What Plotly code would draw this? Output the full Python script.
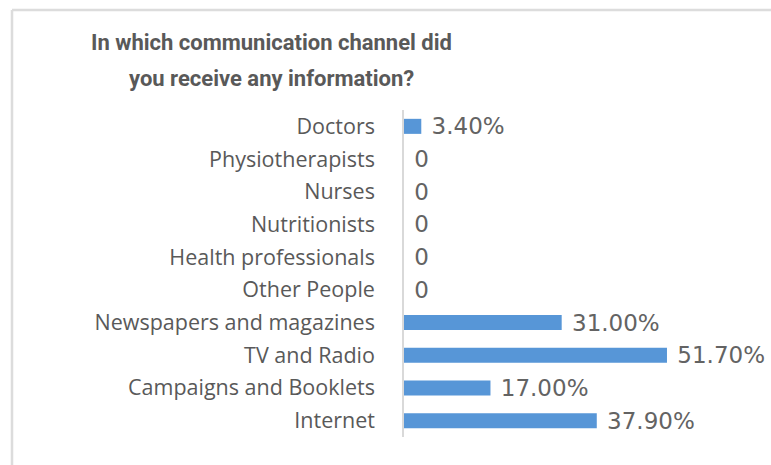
import plotly.graph_objects as go

# Survey responses: share of respondents per communication channel
channels = [
    "Doctors",
    "Physiotherapists",
    "Nurses",
    "Nutritionists",
    "Health professionals",
    "Other People",
    "Newspapers and magazines",
    "TV and Radio",
    "Campaigns and Booklets",
    "Internet",
]
shares = [3.4, 0, 0, 0, 0, 0, 31.0, 51.7, 17.0, 37.9]

title_lines = ["In which communication channel did", "you receive any information?"]

W, H = 771, 465
ML, MR, MT, MB = 404, 0, 110, 28

labels = ["0" if v == 0 else f"{v:.2f}%" for v in shares]

fig = go.Figure(
    go.Bar(
        x=shares,
        y=channels,
        orientation="h",
        width=0.46,
        marker=dict(color="#5796d7", line=dict(width=0)),
        text=[" " + t for t in labels],
        textposition="outside",
        constraintext="none",
        cliponaxis=False,
        textfont=dict(family="DejaVu Sans", size=23, color="#636363"),
        hoverinfo="skip",
    )
)

fig.update_layout(
    width=W,
    height=H,
    margin=dict(l=ML, r=MR, t=MT, b=MB),
    paper_bgcolor="white",
    plot_bgcolor="white",
    showlegend=False,
    bargap=0.5,
)

fig.update_xaxes(
    range=[0, 72.15],
    visible=False,
    showgrid=False,
    zeroline=False,
)

fig.update_yaxes(
    type="category",
    categoryorder="array",
    categoryarray=channels,
    autorange="reversed",
    showline=True,
    linecolor="#d9d9d9",
    linewidth=1.5,
    ticks="",
    showgrid=False,
    ticklabelstandoff=23,
    tickfont=dict(family="Open Sans", size=21.5, color="#595959"),
)

# Two-line bold heading
for i, line in enumerate(title_lines):
    fig.add_annotation(
        text=f"<b>{line}</b>",
        xref="paper",
        yref="paper",
        x=(271 - ML) / (W - ML - MR),
        y=1 + (MT - (42 + 36 * i)) / (H - MT - MB),
        xanchor="center",
        yanchor="middle",
        showarrow=False,
        font=dict(family="Roboto", size=22, color="#595959"),
    )

# Chart frame: left and top edges
pw, ph = W - ML - MR, H - MT - MB
x_left = (12 - ML) / pw
y_top = 1 + (MT - 10) / ph
fig.add_shape(type="line", xref="paper", yref="paper",
              x0=x_left, x1=x_left, y0=y_top, y1=-1,
              line=dict(color="#dcdcdc", width=2.5))
fig.add_shape(type="line", xref="paper", yref="paper",
              x0=x_left, x1=2, y0=y_top, y1=y_top,
              line=dict(color="#dcdcdc", width=2.5))

fig.write_html("out.html")
